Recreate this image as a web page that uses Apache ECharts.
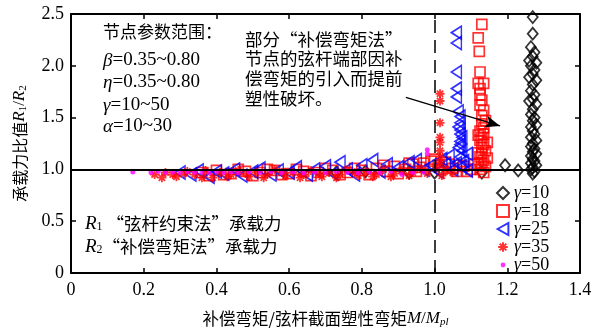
<!DOCTYPE html>
<html>
<head>
<meta charset="utf-8">
<script src="https://cdn.jsdelivr.net/npm/echarts@6/dist/echarts.min.js"></script>
<style>
  html, body { margin: 0; padding: 0; background: #fff; }
  #chart { width: 601px; height: 333px; }
</style>
</head>
<body>
<div id="chart"></div>
<script>
// values: [M/Mpl, R1/R2]
const gamma10 = [
  [1.27, 2.47], [1.27, 2.31], [1.265, 2.18], [1.275, 2.13], [1.27, 2.09], [1.26, 2.05],
  [1.28, 2.03], [1.265, 2.0], [1.275, 1.96], [1.27, 1.92], [1.26, 1.89], [1.28, 1.86],
  [1.27, 1.82], [1.265, 1.76], [1.275, 1.72], [1.27, 1.68], [1.26, 1.66], [1.28, 1.63],
  [1.27, 1.58], [1.265, 1.53], [1.275, 1.5], [1.27, 1.47], [1.28, 1.43], [1.265, 1.41],
  [1.27, 1.37], [1.275, 1.34], [1.265, 1.31], [1.28, 1.28], [1.27, 1.25], [1.265, 1.22],
  [1.275, 1.2], [1.27, 1.17], [1.28, 1.15], [1.265, 1.13], [1.27, 1.1], [1.275, 1.08],
  [1.265, 1.06], [1.28, 1.04], [1.27, 1.02], [1.265, 1.0], [1.275, 0.98], [1.27, 0.96],
  [1.194, 1.04], [1.23, 0.99], [1.13, 0.97], [1.0, 0.97], [0.93, 0.97], [0.81, 0.98], [0.73, 0.97]
];
const gamma18 = [
  [1.13, 2.40], [1.12, 2.27], [1.123, 2.14], [1.125, 1.94], [1.12, 1.83], [1.135, 1.83],
  [1.125, 1.78], [1.125, 1.72], [1.13, 1.67], [1.125, 1.62], [1.135, 1.57], [1.13, 1.52],
  [1.14, 1.47], [1.13, 1.44], [1.135, 1.40], [1.125, 1.37], [1.135, 1.34], [1.13, 1.31],
  [1.125, 1.28], [1.135, 1.24], [1.13, 1.21], [1.14, 1.18], [1.13, 1.15], [1.125, 1.12],
  [1.135, 1.09], [1.13, 1.06], [1.14, 1.03], [1.125, 1.0], [1.135, 0.97], [1.12, 1.05],
  [1.145, 1.11], [1.12, 1.16], [1.145, 1.26], [1.12, 1.33],
  [0.36, 0.97], [0.38, 0.94], [0.40, 0.99], [0.42, 0.95], [0.44, 0.96], [0.46, 1.0],
  [0.48, 0.98], [0.50, 0.94], [0.52, 0.97], [0.54, 1.0], [0.56, 0.99], [0.58, 0.95],
  [0.60, 0.96], [0.62, 1.0], [0.64, 0.98], [0.66, 0.94], [0.68, 0.97], [0.70, 1.01],
  [0.72, 0.99], [0.74, 0.95], [0.76, 0.97], [0.78, 1.01], [0.80, 0.99], [0.82, 0.95],
  [0.84, 1.01], [0.86, 1.04], [0.87, 0.98], [0.89, 1.03], [0.90, 0.96], [0.92, 1.00],
  [0.93, 1.06], [0.94, 1.05], [0.95, 0.98], [0.96, 1.02], [0.97, 1.06], [0.99, 1.08],
  [1.0, 1.10], [1.01, 1.04], [1.02, 1.0], [1.03, 1.07], [1.04, 1.05], [1.05, 1.01],
  [1.06, 0.98], [1.07, 1.04], [1.08, 1.03], [1.09, 0.98], [1.10, 1.0], [1.11, 1.05]
];
const gamma25 = [
  [1.06, 2.32], [1.06, 2.22], [1.06, 1.94], [1.06, 1.78], [1.06, 1.70], [1.065, 1.56],
  [1.07, 1.51], [1.07, 1.45], [1.07, 1.38], [1.075, 1.31], [1.07, 1.24], [1.075, 1.18],
  [1.09, 1.15], [1.07, 1.12], [1.08, 1.08], [1.06, 1.06], [1.075, 1.03], [1.05, 1.0], [1.09, 0.99],
  [1.065, 1.41], [1.07, 1.34], [1.07, 1.27], [1.065, 1.21],
  [0.30, 0.97], [0.33, 0.95], [0.35, 0.99], [0.38, 0.93], [0.40, 0.98], [0.42, 0.96],
  [0.45, 1.0], [0.47, 0.94], [0.50, 0.98], [0.52, 1.01], [0.55, 0.95], [0.57, 0.99],
  [0.60, 0.97], [0.62, 1.02], [0.65, 0.95], [0.67, 1.0], [0.70, 1.03], [0.72, 0.96],
  [0.74, 1.07], [0.76, 1.0], [0.78, 0.95], [0.80, 1.04], [0.83, 1.09], [0.85, 0.98],
  [0.87, 1.05], [0.90, 1.02], [0.93, 1.07], [0.95, 1.09], [0.97, 1.0], [0.99, 1.04],
  [1.01, 0.98], [1.03, 1.05], [1.02, 1.1], [1.04, 1.13]
];
const gamma35 = [
  [1.015, 1.73], [1.015, 1.66], [1.015, 1.45], [1.015, 1.31], [1.015, 1.26], [1.015, 1.18],
  [1.015, 1.12], [1.015, 1.07], [1.01, 1.02],
  [0.23, 0.95], [0.25, 0.92], [0.26, 0.97], [0.28, 0.95], [0.29, 0.93], [0.31, 0.96],
  [0.32, 0.98], [0.34, 0.95], [0.36, 0.92], [0.37, 0.99], [0.39, 0.92], [0.41, 0.97],
  [0.43, 0.93], [0.44, 0.95], [0.46, 0.99], [0.48, 0.96], [0.49, 0.93], [0.51, 0.97],
  [0.53, 0.92], [0.54, 0.95], [0.56, 1.0], [0.58, 0.97], [0.59, 0.94], [0.61, 0.97],
  [0.63, 0.92], [0.64, 0.95], [0.66, 0.99], [0.68, 0.96], [0.69, 0.93], [0.71, 0.97],
  [0.73, 0.92], [0.74, 0.95], [0.76, 1.0], [0.78, 0.97], [0.79, 0.94], [0.81, 0.98],
  [0.83, 0.93], [0.84, 0.95], [0.86, 1.0], [0.88, 0.93], [0.89, 0.96], [0.91, 0.99],
  [0.93, 0.94], [0.94, 0.97], [0.96, 1.01], [0.98, 0.96], [1.02, 0.94], [1.03, 1.0], [1.05, 0.97]
];
const gamma50 = [
  [0.17, 0.975], [0.22, 0.97], [0.24, 0.98], [0.26, 0.97], [0.28, 0.975], [0.30, 0.97],
  [0.32, 0.98], [0.34, 0.97], [0.36, 0.975], [0.38, 0.965], [0.40, 0.98], [0.42, 0.97],
  [0.44, 0.975], [0.46, 0.965], [0.49, 0.975], [0.52, 0.97], [0.55, 0.98], [0.58, 0.97],
  [0.61, 0.975], [0.64, 0.965], [0.67, 0.975], [0.70, 0.97], [0.73, 0.98], [0.76, 0.97],
  [0.79, 0.965], [0.82, 0.975], [0.85, 0.97], [0.88, 0.98], [0.91, 0.95], [0.94, 0.97],
  [0.97, 0.975], [0.98, 1.15], [0.98, 1.19]
];
const seriesNames = ['10', '18', '25', '35', '50'];
const paramLines = [
  '{c|节点参数范围：}',
  '{i|β}{n|=0.35~0.80}',
  '{i|η}{n|=0.35~0.80}',
  '{i|γ}{n|=10~50}',
  '{i|α}{n|=10~30}'
];
const paramY = [34, 62, 84, 107, 128];
const noteLines = ['部分“补偿弯矩法”', '节点的弦杆端部因补', '偿弯矩的引入而提前', '塑性破坏。'];

const serif = '"Liberation Serif", "Times New Roman", serif';
const cjk = '"Noto Sans CJK SC", sans-serif';
const rich = {
  i: { fontFamily: serif, fontStyle: 'italic', fontSize: 17, color: '#000' },
  n: { fontFamily: serif, fontSize: 17, color: '#000' },
  c: { fontFamily: cjk, fontSize: 16, color: '#000' },
  s: { fontFamily: serif, fontSize: 11, color: '#000', padding: [7, 0, 0, 0] },
  si: { fontFamily: serif, fontStyle: 'italic', fontSize: 11, color: '#000', padding: [7, 0, 0, 0] }
};

const chart = echarts.init(document.getElementById('chart'), null, { renderer: 'canvas' });

const hollow = (color, w) => ({ color: 'rgba(0,0,0,0)', borderColor: color, borderWidth: w || 1.5 });
const asterisk = 'path://M0,5L10,5M5,0L5,10M1.5,1.5L8.5,8.5M8.5,1.5L1.5,8.5';

const axisCommon = {
  type: 'value',
  min: 0,
  splitLine: { show: false },
  axisLine: { show: true, onZero: false, lineStyle: { color: '#000', width: 2 } },
  axisTick: { show: true, inside: true, length: 5, lineStyle: { color: '#000', width: 1.5 } },
};
const fmt = (v) => (v === 0 ? '0' : v.toFixed(1));

chart.setOption({
  animation: false,
  grid: { left: 71, right: 21, top: 14, bottom: 55 },
  xAxis: [
    {
      ...axisCommon, max: 1.4, interval: 0.2, position: 'bottom',
      axisLabel: { formatter: fmt, fontFamily: serif, fontSize: 18, color: '#000', margin: 8 },
      name: '{c|补偿弯矩/弦杆截面塑性弯矩}{i|M}{n|/}{i|M}{si|pl}',
      nameLocation: 'middle', nameGap: 37,
      nameTextStyle: { rich: { ...rich, c: { ...rich.c, fontSize: 16.5 } } }
    },
    { ...axisCommon, max: 1.4, interval: 0.2, position: 'top', axisLabel: { show: false } }
  ],
  yAxis: [
    {
      ...axisCommon, max: 2.5, interval: 0.5, position: 'left',
      axisLabel: { formatter: fmt, fontFamily: serif, fontSize: 18, color: '#000', margin: 7 },
      name: '{c|承载力比值}{i|R}{s|1}{n|/}{i|R}{s|2}',
      nameLocation: 'middle', nameGap: 42, nameRotate: 90,
      nameTextStyle: { rich }
    },
    { ...axisCommon, max: 2.5, interval: 0.5, position: 'right', axisLabel: { show: false } }
  ],
  legend: {
    data: [
      { name: '10', icon: 'diamond' },
      { name: '18', icon: 'path://M1,1L9,1L9,9L1,9Z' },
      { name: '25', icon: 'path://M0,5L9,0L9,10Z' },
      { name: '35', icon: 'path://M1,5L9,5M5,1L5,9M2.2,2.2L7.8,7.8M7.8,2.2L2.2,7.8M0,0L0,0M10,10L10,10' },
      { name: '50', icon: 'path://M7,5A2,2 0 1,1 3,5A2,2 0 1,1 7,5ZM0,0L0,0.01M10,10L10,10.01' }
    ],
    orient: 'vertical',
    left: 491, top: 179,
    itemWidth: 12, itemHeight: 12, itemGap: 0,
    formatter: (name) => '{i|γ}{n|=' + name + '}',
    textStyle: {
      rich: {
        i: { ...rich.i, fontSize: 18, lineHeight: 19 },
        n: { ...rich.n, fontSize: 18, lineHeight: 19 }
      }
    }
  },
  graphic: [
    ...paramLines.map((l, k) => ({
      type: 'text', left: 103, top: paramY[k] - 11,
      style: {
        text: l,
        rich: {
          c: { ...rich.c, fontSize: 17, lineHeight: 22 },
          i: { ...rich.i, fontSize: 19, lineHeight: 22 },
          n: { ...rich.n, fontSize: 19, lineHeight: 22 }
        }
      }
    })),
    {
      type: 'text', left: 245, top: 29,
      style: {
        text: noteLines.join('\n'),
        font: '17.5px ' + cjk, fill: '#000', lineHeight: 19.7
      }
    },
    {
      type: 'text', left: 85, top: 214,
      style: {
        text: '{i|R}{s|1}{c| “弦杆约束法”承载力}\n{i|R}{s|2}{c|“补偿弯矩法”承载力}',
        rich: {
          i: { ...rich.i, fontSize: 19, lineHeight: 23 },
          s: { ...rich.s, fontSize: 12, lineHeight: 23 },
          c: { ...rich.c, fontSize: 17.5, lineHeight: 23 }
        }
      }
    }
  ],
  series: [
    {
      name: '10', type: 'scatter', data: gamma10, symbol: 'diamond', symbolSize: [10, 12],
      itemStyle: hollow('#000', 1.8)
    },
    {
      name: '18', type: 'scatter', data: gamma18, symbol: 'rect', symbolSize: 10,
      itemStyle: hollow('#ff0000', 1.7)
    },
    {
      name: '25', type: 'scatter', data: gamma25, symbol: 'triangle', symbolSize: [13, 10], symbolRotate: 90,
      itemStyle: hollow('#0000ff', 1.6)
    },
    {
      name: '35', type: 'scatter', data: gamma35, symbol: asterisk, symbolSize: 9,
      itemStyle: { color: 'rgba(0,0,0,0)', borderColor: '#ff0000', borderWidth: 1.8 }
    },
    {
      name: '50', type: 'scatter', data: gamma50, symbol: 'circle', symbolSize: 5,
      itemStyle: { color: '#ff00ff' }
    },
    {
      name: 'lines', type: 'scatter', data: [], z: 10,
      markLine: {
        silent: true, animation: false,
        label: { show: false },
        data: [
          [{ coord: [0, 1.0], symbol: 'none' }, { coord: [1.4, 1.0], symbol: 'none', lineStyle: { color: '#000', width: 2, type: 'solid' } }],
          [{ coord: [1.0, 0], symbol: 'none' }, { coord: [1.0, 2.5], symbol: 'none', lineStyle: { color: '#000', width: 1.5, type: [13, 7] } }],
          [{ coord: [0.921, 1.695], symbol: 'none' }, { coord: [1.18, 1.42], symbol: 'arrow', symbolSize: [9, 15], lineStyle: { color: '#000', width: 1.5, type: 'solid' } }]
        ],
        lineStyle: { color: '#000' }
      }
    }
  ]
});
</script>
</body>
</html>
